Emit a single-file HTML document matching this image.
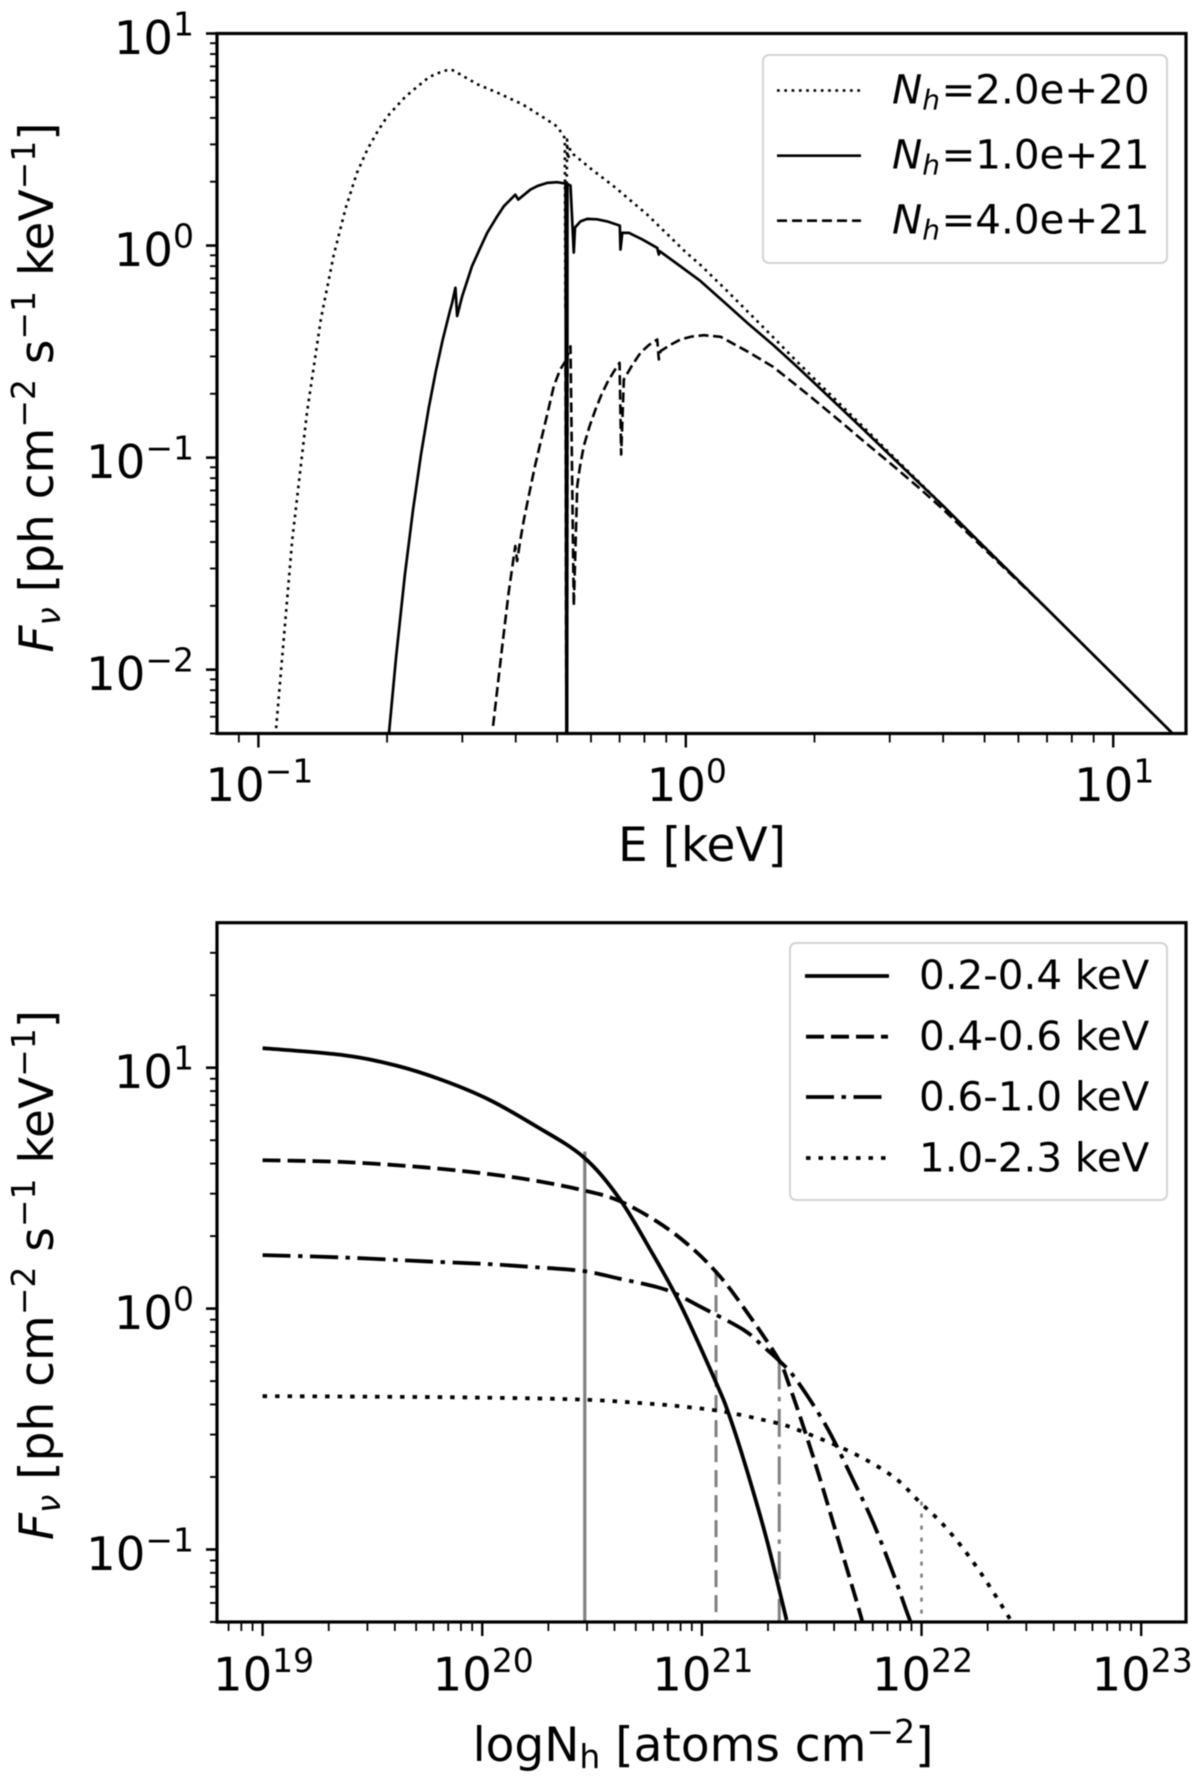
<!DOCTYPE html>
<html lang="en">
<head>
<meta charset="utf-8">
<title>Absorbed spectra and band flux versus column density</title>
<style>
html,body{margin:0;padding:0;background:#fff;}
svg{display:block;filter:blur(0.65px);}
text{font-family:"DejaVu Sans","Liberation Sans",sans-serif;fill:#000;white-space:pre;}
.ax{font-size:47px;}
.leg{font-size:40.4px;}
</style>
</head>
<body>
<svg id="fig" xmlns="http://www.w3.org/2000/svg" width="1200" height="1781" viewBox="0 0 1200 1781">
<defs>
<clipPath id="clipTop"><rect x="217" y="33.5" width="969" height="700"/></clipPath>
<clipPath id="clipBottom"><rect x="217" y="922.7" width="969" height="699.3"/></clipPath>
</defs>
<rect x="0" y="0" width="1200" height="1781" fill="#fff"/>
<g id="topMarks" clip-path="url(#clipTop)"></g>
<g id="bottomMarks" clip-path="url(#clipBottom)"></g>
<g id="topTicks"></g>
<g id="bottomTicks"></g>
<rect x="217" y="33.5" width="969" height="700" fill="none" stroke="#000" stroke-width="3.2"/>
<rect x="217" y="922.7" width="969" height="699.3" fill="none" stroke="#000" stroke-width="3.2"/>

<text class="ax" x="702" y="861" text-anchor="middle">E [keV]</text>
<text class="ax" transform="translate(53,387.5) rotate(-90)" text-anchor="middle"><tspan font-style="italic">F</tspan><tspan font-style="italic" font-size="33" dy="7">ν</tspan><tspan dy="-7"> [ph cm</tspan><tspan font-size="33" dy="-18">−2</tspan><tspan dy="18"> s</tspan><tspan font-size="33" dy="-18">−1</tspan><tspan dy="18"> keV</tspan><tspan font-size="33" dy="-18">−1</tspan><tspan dy="18">]</tspan></text>
<text class="ax" x="703" y="1761" text-anchor="middle">logN<tspan font-size="33" dy="7">h</tspan><tspan dy="-7"> [atoms cm</tspan><tspan font-size="33" dy="-18">−2</tspan><tspan dy="18">]</tspan></text>
<text class="ax" transform="translate(53,1275) rotate(-90)" text-anchor="middle"><tspan font-style="italic">F</tspan><tspan font-style="italic" font-size="33" dy="7">ν</tspan><tspan dy="-7"> [ph cm</tspan><tspan font-size="33" dy="-18">−2</tspan><tspan dy="18"> s</tspan><tspan font-size="33" dy="-18">−1</tspan><tspan dy="18"> keV</tspan><tspan font-size="33" dy="-18">−1</tspan><tspan dy="18">]</tspan></text>

<g>
<rect x="763" y="55" width="404" height="208" rx="6" ry="6" fill="#fff" fill-opacity="0.8" stroke="#d4d4d4" stroke-width="2"/>
<line x1="777" x2="861" y1="90.5" y2="90.5" stroke="#000" stroke-width="2.6" stroke-dasharray="2.7 4.6"/>
<line x1="777" x2="861" y1="155.7" y2="155.7" stroke="#000" stroke-width="2.7"/>
<line x1="777" x2="861" y1="220.7" y2="220.7" stroke="#000" stroke-width="2.7" stroke-dasharray="10 5"/>
<text class="leg" x="892" y="103.3"><tspan font-style="italic">N</tspan><tspan font-style="italic" font-size="28" dy="6">h</tspan><tspan dy="-6" dx="1.5">=2.0e+20</tspan></text>
<text class="leg" x="892" y="168.3"><tspan font-style="italic">N</tspan><tspan font-style="italic" font-size="28" dy="6">h</tspan><tspan dy="-6" dx="1.5">=1.0e+21</tspan></text>
<text class="leg" x="892" y="233.3"><tspan font-style="italic">N</tspan><tspan font-style="italic" font-size="28" dy="6">h</tspan><tspan dy="-6" dx="1.5">=4.0e+21</tspan></text>
</g>

<g>
<rect x="790" y="943" width="377" height="257" rx="6" ry="6" fill="#fff" fill-opacity="0.8" stroke="#d4d4d4" stroke-width="2"/>
<line x1="805" x2="889" y1="976" y2="976" stroke="#000" stroke-width="3.8"/>
<line x1="806" x2="888" y1="1036.7" y2="1036.7" stroke="#000" stroke-width="3.8" stroke-dasharray="18 7"/>
<line x1="806" x2="888" y1="1097" y2="1097" stroke="#000" stroke-width="3.8" stroke-dasharray="28 7.5 4.5 7.5"/>
<line x1="806" x2="888" y1="1158" y2="1158" stroke="#000" stroke-width="3.8" stroke-dasharray="4.5 8"/>
<text class="leg" x="919" y="989">0.2-0.4 keV</text>
<text class="leg" x="919" y="1050">0.4-0.6 keV</text>
<text class="leg" x="919" y="1110.5">0.6-1.0 keV</text>
<text class="leg" x="919" y="1171.5">1.0-2.3 keV</text>
</g>
</svg>

<script>
// ---------- Top panel: spectra (E in keV, F in ph cm^-2 s^-1 keV^-1) ----------
const energyNh2e20 = [0.110,0.12,0.13,0.14,0.15,0.16,0.17,0.18,0.19,0.20,0.22,0.23,0.25,0.26,0.275,0.283,0.292,0.326,0.363,0.416,0.468,0.501,0.521,0.523,0.5275,0.530,0.536,0.546,0.60,0.679,0.812,1.0,1.082,1.25,1.4,1.6,1.8,2,2.3,2.6,3,3.5,4,5,7,10,14.5];
const fluxNh2e20   = [0.0053,0.041,0.165,0.45,0.9,1.5,2.2,2.85,3.45,4.05,5.0,5.4,6.2,6.45,6.7,6.76,6.53,5.75,5.25,4.62,3.98,3.63,3.21,0.5,3.16,2.55,2.85,2.69,2.3,1.90,1.40,0.93,0.81,0.61,0.485,0.37,0.29,0.235,0.178,0.1396,0.105,0.0773,0.0592,0.0379,0.01935,0.00948,0.00451];

const energyNh1e21 = [0.2014,0.21,0.22,0.23,0.24,0.25,0.26,0.27,0.28,0.284,0.289,0.2917,0.2998,0.316,0.33,0.343,0.36,0.375,0.399,0.4054,0.433,0.45,0.474,0.50,0.523,0.5257,0.5275,0.5285,0.5372,0.5468,0.5504,0.567,0.5878,0.62,0.6546,0.7008,0.7032,0.7099,0.7356,0.79,0.8573,0.8646,0.8691,0.95,1.0,1.0825,1.25,1.4,1.6,1.8,2,2.3,2.6,3,3.5,4,5,7,10,14.5];
const fluxNh1e21   = [0.00468,0.01153,0.02775,0.0567,0.103,0.169,0.255,0.361,0.484,0.537,0.632,0.465,0.577,0.799,0.97,1.148,1.35,1.531,1.738,1.648,1.837,1.91,1.975,1.99,1.96,0.0025,0.0025,1.95,1.92,0.927,1.216,1.30,1.336,1.33,1.30,1.242,0.958,1.148,1.148,1.07,0.975,0.907,0.94,0.825,0.765,0.68,0.525,0.428,0.34,0.274,0.2245,0.172,0.136,0.103,0.0765,0.0592,0.0378,0.01935,0.00948,0.00451];

const energyNh4e21 = [0.354,0.372,0.385,0.399,0.403,0.409,0.418,0.429,0.443,0.457,0.474,0.491,0.508,0.523,0.5257,0.5275,0.5285,0.5372,0.5468,0.5571,0.565,0.577,0.595,0.6147,0.634,0.6546,0.677,0.6998,0.7058,0.7161,0.75,0.7834,0.82,0.8573,0.8646,0.8725,0.92,0.9718,1.03,1.102,1.206,1.4,1.6,1.8,2,2.3,2.6,3,3.5,4,5,7,10,14.5];
const fluxNh4e21   = [0.00543,0.01294,0.0231,0.0383,0.0325,0.0397,0.051,0.0659,0.09,0.1175,0.16,0.217,0.26,0.285,0.003,0.003,0.3,0.335,0.02,0.0735,0.09,0.1132,0.14,0.1687,0.197,0.2254,0.253,0.28,0.1035,0.2336,0.274,0.3122,0.34,0.3606,0.2904,0.3177,0.34,0.3606,0.372,0.3777,0.3713,0.315,0.268,0.222,0.187,0.148,0.12,0.0945,0.0725,0.057,0.037,0.01935,0.00948,0.00451];

const topXMajorTicks = [0.1,1,10];
const topXMajorLabels = ['−1','0','1'];
const topYMajorTicks = [10,1,0.1,0.01];
const topYMajorLabels = ['1','0','−1','−2'];

// ---------- Bottom panel: band flux vs column density ----------
const columnBand1 = [1e19,2.344e19,4.07e19,6.61e19,1.07e20,1.74e20,2.88e20,4.17e20,5.75e20,7.94e20,1.164e21,1.34e21,1.596e21,1.968e21,2.43e21];
const fluxBand1   = [12.06,11.27,10.2,8.87,7.38,5.75,4.27,2.9,1.79,1.05,0.49,0.355,0.216,0.111,0.0509];

const columnBand2 = [1e19,2.34e19,5.62e19,1.07e20,1.73e20,2.88e20,4.17e20,6.24e20,8.61e20,1.14e21,1.46e21,2.19e21,2.51e21,3.21e21,4.09e21,5.25e21,5.6e21];
const fluxBand2   = [4.13,4.06,3.85,3.62,3.40,3.10,2.81,2.30,1.85,1.445,1.089,0.634,0.475,0.243,0.117,0.0543,0.0427];

const columnBand3 = [1e19,2.34e19,5.62e19,1.07e20,1.73e20,2.88e20,4.17e20,6.24e20,7.62e20,9.77e20,1.542e21,1.90e21,2.265e21,2.69e21,3.69e21,4.88e21,6.03e21,7.41e21,8.51e21,8.91e21];
const fluxBand3   = [1.667,1.63,1.57,1.53,1.486,1.432,1.334,1.229,1.151,1.022,0.818,0.697,0.604,0.507,0.324,0.1945,0.129,0.08,0.0561,0.0501];

const columnBand4 = [1e19,3e19,1e20,2.88e20,5.75e20,7.94e20,1.247e21,2.04e21,2.606e21,4.72e21,7.41e21,9.77e21,1.297e22,1.778e22,2.51e22,2.63e22];
const fluxBand4   = [0.433,0.431,0.427,0.419,0.403,0.393,0.374,0.340,0.319,0.255,0.201,0.158,0.1227,0.0849,0.052,0.0468];

const markerColumns = [2.93e20,1.16e21,2.25e21,1e22];
const markerTops    = [4.49,1.445,0.604,0.158];
const markerBottom  = 0.05;

const botXMajorTicks = [1e19,1e20,1e21,1e22,1e23];
const botXMajorLabels = ['19','20','21','22','23'];
const botYMajorTicks = [10,1,0.1];
const botYMajorLabels = ['1','0','−1'];

const topXDecades=[0.01,0.1,1,10];
const topYDecades=[0.001,0.01,0.1,1];
const botXDecades=[1e18,1e19,1e20,1e21,1e22,1e23];
const botYDecades=[0.01,0.1,1,10];

// ---------- Axis functions ----------
const NS = 'http://www.w3.org/2000/svg';
function logScale(d0,d1,p0,p1){
  const a=Math.log10(d0), b=Math.log10(d1);
  return function(v){ return p0+(Math.log10(v)-a)/(b-a)*(p1-p0); };
}
const xTop = logScale(0.08,14.8,217,1186);
const yTop = logScale(0.005,10,733.5,33.5);
const xBot = logScale(6.2e18,1.6e23,217,1186);
const yBot = logScale(0.05,40,1622,922.7);

function curve(parent,xs,ys,xf,yf,width,dash,color,smooth){
  const el=document.createElementNS(NS,'path');
  const px=xs.map(xf), py=ys.map(yf);
  let d='M'+px[0].toFixed(2)+' '+py[0].toFixed(2);
  for(let i=1;i<px.length;i++){
    if(smooth){
      const i0=Math.max(i-2,0), i3=Math.min(i+1,px.length-1);
      const c1x=px[i-1]+(px[i]-px[i0])/6, c1y=py[i-1]+(py[i]-py[i0])/6;
      const c2x=px[i]-(px[i3]-px[i-1])/6, c2y=py[i]-(py[i3]-py[i-1])/6;
      d+='C'+c1x.toFixed(2)+' '+c1y.toFixed(2)+' '+c2x.toFixed(2)+' '+c2y.toFixed(2)+' '+px[i].toFixed(2)+' '+py[i].toFixed(2);
    }else{
      d+='L'+px[i].toFixed(2)+' '+py[i].toFixed(2);
    }
  }
  el.setAttribute('d',d);
  el.setAttribute('fill','none');
  el.setAttribute('stroke',color);
  el.setAttribute('stroke-width',width);
  el.setAttribute('stroke-linejoin','round');
  if(dash){el.setAttribute('stroke-dasharray',dash);}
  parent.appendChild(el);
  return el;
}
function tickLine(parent,x1,y1,x2,y2,width){
  const el=document.createElementNS(NS,'line');
  el.setAttribute('x1',x1);
  el.setAttribute('y1',y1);
  el.setAttribute('x2',x2);
  el.setAttribute('y2',y2);
  el.setAttribute('stroke','#000');
  el.setAttribute('stroke-width',width);
  parent.appendChild(el);
  return el;
}
function powerLabel(parent,x,y,exp,anchor){
  const el=document.createElementNS(NS,'text');
  el.setAttribute('x',x);
  el.setAttribute('y',y);
  el.setAttribute('text-anchor',anchor);
  el.setAttribute('font-size','46.5');
  el.appendChild(document.createTextNode('10'));
  const s=document.createElementNS(NS,'tspan');
  s.setAttribute('font-size','33');
  s.setAttribute('dy','-18.5');
  s.textContent=exp;
  el.appendChild(s);
  parent.appendChild(el);
  return el;
}

// ---------- Draw curves: top panel ----------
const topG=document.getElementById('topMarks');
const c1=curve(topG,energyNh2e20,fluxNh2e20,xTop,yTop,2.6,'2.7 4.6','#000',false);


const c2=curve(topG,energyNh1e21,fluxNh1e21,xTop,yTop,2.7,null,'#000',false);


const c3=curve(topG,energyNh4e21,fluxNh4e21,xTop,yTop,2.6,'10 4.6','#000',false);



// ---------- Draw curves: bottom panel ----------
const botG=document.getElementById('bottomMarks');
const markerDashes=[null,'17 8','28 7.5 4.5 7.5','4 8'];
const markerWidths=[3.2,3,3,2.6];
for(let i=0;i<markerColumns.length;i++){
  const m=curve(botG,[markerColumns[i],markerColumns[i]],[markerTops[i],markerBottom],xBot,yBot,markerWidths[i],markerDashes[i],'#808080',false);
  
  
}
const b1=curve(botG,columnBand1,fluxBand1,xBot,yBot,3.8,null,'#000',true);


const b2=curve(botG,columnBand2,fluxBand2,xBot,yBot,3.8,'18 7','#000',true);


const b3=curve(botG,columnBand3,fluxBand3,xBot,yBot,3.8,'28 7.5 4.5 7.5','#000',true);


const b4=curve(botG,columnBand4,fluxBand4,xBot,yBot,3.8,'4.5 8','#000',true);



// ---------- Ticks ----------
function drawAxes(group,xf,yf,left,right,top,bottom,xMajor,xLabels,yMajor,yLabels,xDecades,yDecades,xLabelY){
  for(let i=0;i<xMajor.length;i++){
    const t=tickLine(group,xf(xMajor[i]),bottom,xf(xMajor[i]),bottom+14,2.4);
    
    
    const l=powerLabel(group,xf(xMajor[i])+1,xLabelY,xLabels[i],'middle');
    
    
  }
  for(let i=0;i<yMajor.length;i++){
    const t=tickLine(group,left,yf(yMajor[i]),left-11,yf(yMajor[i]),2.6);
    
    
    const l=powerLabel(group,194,yf(yMajor[i])+20.5,yLabels[i],'end');
    
    
  }
  for(let k=0;k<xDecades.length;k++){
    for(let m=2;m<=9;m++){
      const x=xf(m*xDecades[k]);
      if(x<left+1||x>right-1){continue;}
      const t=tickLine(group,x,bottom,x,bottom+9,1.8);
      
      
    }
  }
  for(let k=0;k<yDecades.length;k++){
    for(let m=2;m<=9;m++){
      const y=yf(m*yDecades[k]);
      if(y<top+1||y>bottom+1){continue;}
      const t=tickLine(group,left,y,left-7,y,1.9);
      
      
    }
  }
}
drawAxes(document.getElementById('topTicks'),xTop,yTop,217,1186,33.5,733.5,topXMajorTicks,topXMajorLabels,topYMajorTicks,topYMajorLabels,topXDecades,topYDecades,801);
drawAxes(document.getElementById('bottomTicks'),xBot,yBot,217,1186,922.7,1622,botXMajorTicks,botXMajorLabels,botYMajorTicks,botYMajorLabels,botXDecades,botYDecades,1690.7);
</script>
</body>
</html>
